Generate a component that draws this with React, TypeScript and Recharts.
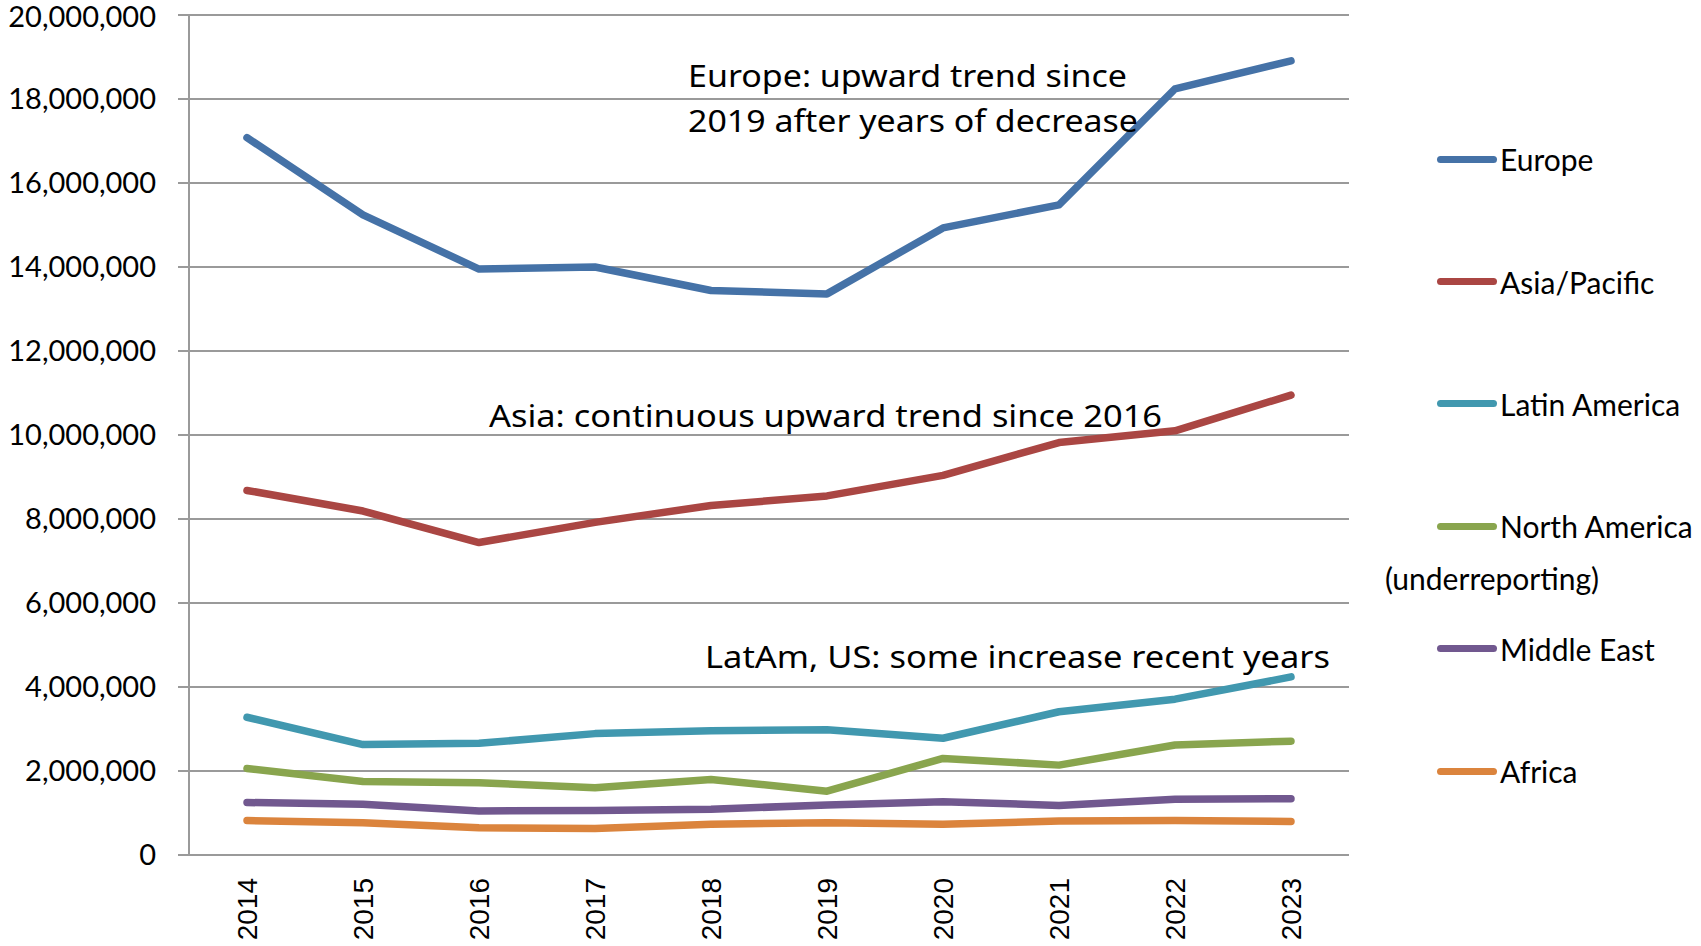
import { LineChart, Line, XAxis, YAxis, CartesianGrid } from "recharts";

const YEARS = [2014, 2015, 2016, 2017, 2018, 2019, 2020, 2021, 2022, 2023];

// arrivals per region, in millions
const EUROPE = [17.08, 15.24, 13.95, 14.0, 13.44, 13.36, 14.93, 15.48, 18.24, 18.91];
const ASIA_PACIFIC = [8.68, 8.19, 7.44, 7.92, 8.32, 8.55, 9.04, 9.82, 10.1, 10.95];
const LATIN_AMERICA = [3.28, 2.63, 2.66, 2.89, 2.96, 2.98, 2.78, 3.41, 3.71, 4.24];
const NORTH_AMERICA = [2.06, 1.75, 1.72, 1.6, 1.8, 1.52, 2.3, 2.14, 2.62, 2.71];
const MIDDLE_EAST = [1.25, 1.21, 1.05, 1.06, 1.09, 1.19, 1.27, 1.18, 1.33, 1.34];
const AFRICA = [0.82, 0.77, 0.65, 0.63, 0.73, 0.77, 0.73, 0.81, 0.82, 0.8];

const Y_TICKS = [0, 2, 4, 6, 8, 10, 12, 14, 16, 18, 20].map((m) => m * 1e6);

const SERIES = [
  { key: "europe", name: "Europe", color: "#4572A7", values: EUROPE },
  { key: "asia", name: "Asia/Pacific", color: "#AA4643", values: ASIA_PACIFIC },
  { key: "latam", name: "Latin America", color: "#4198AF", values: LATIN_AMERICA },
  { key: "northam", name: "North America", color: "#89A54E", values: NORTH_AMERICA },
  { key: "mideast", name: "Middle East", color: "#71588F", values: MIDDLE_EAST },
  { key: "africa", name: "Africa", color: "#DB843D", values: AFRICA },
];

const data = YEARS.map((year, i) => {
  const row: Record<string, number> = { year };
  SERIES.forEach((s) => {
    row[s.key] = Math.round(s.values[i] * 1e6);
  });
  return row;
});

const EDGES = [YEARS[0] - 0.5, ...YEARS.map((y) => y + 0.5)];
const DOMAIN = [EDGES[0], EDGES[EDGES.length - 1]];

const GRID = "#9a9a9a";

function YearTick({ x, y, payload }: any) {
  const ty = y + 14;
  return (
    <text
      x={x}
      y={ty}
      transform={`rotate(-90, ${x}, ${ty})`}
      textAnchor="end"
      dy="0.36em"
      fill="#000"
      fontSize={28}
      fontFamily="'Liberation Sans', Arial, sans-serif"
    >
      {payload.value}
    </text>
  );
}

function Legend() {
  return (
    <div
      style={{
        position: "absolute",
        left: 1437,
        top: 98,
        fontFamily: "Lato, sans-serif",
        fontSize: 30,
        color: "#000",
      }}
    >
      {SERIES.map((s) => (
        <div
          key={s.key}
          style={{
            position: "relative",
            height: 122.4,
            display: "flex",
            alignItems: "center",
          }}
        >
          <div
            style={{
              width: 60,
              height: 7,
              borderRadius: 4,
              background: s.color,
              marginRight: 3,
            }}
          />
          <span style={{ whiteSpace: "nowrap" }}>{s.name}</span>
          {s.key === "northam" && (
            <span
              style={{
                position: "absolute",
                left: -52,
                top: 95,
                whiteSpace: "nowrap",
                lineHeight: "36px",
              }}
            >
              (underreporting)
            </span>
          )}
        </div>
      ))}
    </div>
  );
}

function Notes() {
  const font = { fontFamily: "'Noto Sans', sans-serif", fontSize: 31, fill: "#000" };
  return (
    <svg
      width={1701}
      height={946}
      style={{ position: "absolute", left: 0, top: 0, pointerEvents: "none" }}
    >
      <text x={688} y={87} textLength={439} lengthAdjust="spacingAndGlyphs" {...font}>
        Europe: upward trend since
      </text>
      <text x={688} y={132} textLength={450} lengthAdjust="spacingAndGlyphs" {...font}>
        2019 after years of decrease
      </text>
      <text x={489} y={427} textLength={673} lengthAdjust="spacingAndGlyphs" {...font}>
        Asia: continuous upward trend since 2016
      </text>
      <text x={705} y={668} textLength={625} lengthAdjust="spacingAndGlyphs" {...font}>
        LatAm, US: some increase recent years
      </text>
    </svg>
  );
}

export default function App() {
  return (
    <div
      style={{
        position: "absolute",
        left: 0,
        top: 0,
        width: 1701,
        height: 946,
        background: "#fff",
        overflow: "hidden",
      }}
    >
      <LineChart
        width={1701}
        height={946}
        data={data}
        margin={{ top: 15, right: 352, left: 0, bottom: 0 }}
      >
        <CartesianGrid vertical={false} stroke={GRID} strokeWidth={2} />
        <XAxis
          xAxisId="edge"
          dataKey="year"
          type="number"
          domain={DOMAIN}
          ticks={EDGES}
          height={1}
          tick={false}
          tickSize={10}
          axisLine={{ stroke: GRID, strokeWidth: 2 }}
          tickLine={{ stroke: GRID, strokeWidth: 2 }}
        />
        <XAxis
          xAxisId="year"
          dataKey="year"
          type="number"
          domain={DOMAIN}
          ticks={YEARS}
          height={90}
          axisLine={false}
          tickLine={false}
          tick={<YearTick />}
        />
        <YAxis
          width={189}
          domain={[0, 20000000]}
          ticks={Y_TICKS}
          tickSize={11}
          tickMargin={22}
          axisLine={{ stroke: GRID, strokeWidth: 2 }}
          tickLine={{ stroke: GRID, strokeWidth: 2 }}
          tick={{ fill: "#000", fontSize: 29, fontFamily: "Lato, sans-serif" }}
          tickFormatter={(v: number) => v.toLocaleString("en-US")}
        />
        {SERIES.map((s) => (
          <Line
            key={s.key}
            xAxisId="year"
            dataKey={s.key}
            name={s.name}
            type="linear"
            stroke={s.color}
            strokeWidth={7.5}
            strokeLinecap="round"
            strokeLinejoin="round"
            dot={false}
            activeDot={false}
            isAnimationActive={false}
          />
        ))}
      </LineChart>
      <Notes />
      <Legend />
    </div>
  );
}
